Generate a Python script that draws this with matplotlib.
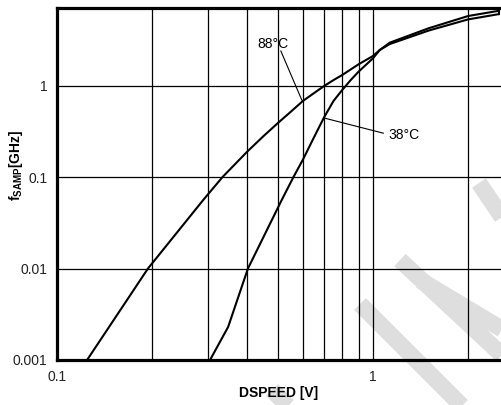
import numpy as np
import matplotlib
matplotlib.use("Agg")
import matplotlib.pyplot as plt
from matplotlib.lines import Line2D
from matplotlib.ticker import FixedLocator, NullFormatter

plt.rcParams['font.family'] = ['Liberation Sans', 'DejaVu Sans']
plt.rcParams['mathtext.fontset'] = 'custom'
plt.rcParams['mathtext.bf'] = 'Liberation Sans:bold'
plt.rcParams['mathtext.rm'] = 'Liberation Sans'

# curve data (DSPEED [V] -> fSAMP [GHz])
dspeed_88 = [0.1245, 0.194, 0.29, 0.334, 0.4, 0.45, 0.5, 0.55, 0.6, 0.7, 0.75,
             0.8, 0.9, 1.0, 1.05, 1.13, 1.5, 2.0, 2.5]
fsamp_88 = [0.001, 0.01, 0.056, 0.1, 0.19, 0.28, 0.39, 0.52, 0.68, 0.99, 1.15,
            1.31, 1.71, 2.11, 2.45, 2.85, 4.0, 5.3, 6.05]

dspeed_38 = [0.305, 0.348, 0.402, 0.514, 0.56, 0.6, 0.644, 0.7, 0.75, 0.8, 0.85, 0.9, 1.0,
             1.05, 1.13, 1.5, 2.0, 2.5]
fsamp_38 = [0.001, 0.0023, 0.01, 0.056, 0.1, 0.155, 0.254, 0.45, 0.68, 0.9, 1.15, 1.42, 1.99,
            2.45, 2.95, 4.24, 5.77, 6.58]

y_ticks = [0.001, 0.01, 0.1, 1]
y_ticklabels = ["0.001", "0.01", "0.1", "1"]
x_ticks = [0.1, 1]
x_ticklabels = ["0.1", "1"]
x_minor = [0.2, 0.3, 0.4, 0.5, 0.6, 0.7, 0.8, 0.9, 2, 3, 4, 5, 6, 7, 8, 9]

W, H = 501, 405
fig = plt.figure(figsize=(W / 100, H / 100), dpi=100)

def px(x, y):
    # pixel (from top-left) -> figure fraction
    return x / W, 1 - y / H

# light grey watermark stripes behind the plot
stripes = [((272, 390), (372, 490)),
           ((360, 304), (520, 464)),
           ((400, 260), (560, 409)),
           ((420, 280), (570, 370)),
           ((479, 183), (539, 272))]
for (x0, y0), (x1, y1) in stripes:
    a = px(x0, y0)
    b = px(x1, y1)
    fig.lines.append(Line2D([a[0], b[0]], [a[1], b[1]], transform=fig.transFigure,
                            color='#dedede', lw=12, solid_capstyle='butt', zorder=-5))

ax = fig.add_axes([57 / W, (H - 360) / H, 632 / W, (360 - 7.5) / H])
ax.patch.set_alpha(0)
ax.set_xscale('log')
ax.set_yscale('log')
ax.set_xlim(0.1, 10)
ax.set_ylim(0.001, 7.15)

ax.xaxis.set_major_locator(FixedLocator(x_ticks))
ax.xaxis.set_minor_locator(FixedLocator(x_minor))
ax.xaxis.set_minor_formatter(NullFormatter())
ax.yaxis.set_major_locator(FixedLocator(y_ticks))
ax.yaxis.set_minor_locator(FixedLocator([]))
ax.set_xticklabels(x_ticklabels)
ax.set_yticklabels(y_ticklabels)
ax.tick_params(which='both', length=0, labelsize=10, colors='#222222')
ax.tick_params(axis='x', pad=7)
ax.tick_params(axis='y', pad=7)

ax.grid(True, which='major', color='black', lw=0.9)
ax.grid(True, which='minor', axis='x', color='black', lw=0.9)
ax.set_axisbelow(True)

for s in ['left', 'bottom', 'top', 'right']:
    ax.spines[s].set_linewidth(2.3)

ax.plot(dspeed_88, fsamp_88, color='black', lw=1.5)
ax.plot(dspeed_38, fsamp_38, color='black', lw=1.5)
ax.plot([dspeed_88[-1], dspeed_38[-1]], [fsamp_88[-1], fsamp_38[-1]], color='black', lw=1.5)

# labels with leaders
ax.plot([0.511, 0.595], [2.39, 0.698], color='black', lw=0.8)
ax.text(0.483, 2.86, "88°C", fontsize=10, ha='center', va='center')
ax.plot([0.705, 1.078], [0.44, 0.302], color='black', lw=0.8)
ax.text(1.115, 0.289, "38°C", fontsize=10, ha='left', va='center')

fig.text(*px(279, 393), "DSPEED [V]", fontsize=10, fontweight='bold', ha='center', va='center')
fig.text(*px(16, 165), r"$\mathbf{f_{SAMP}}$[GHz]", fontsize=10, fontweight='bold',
         rotation=90, ha='center', va='center')

fig.savefig("out.png", dpi=100)
